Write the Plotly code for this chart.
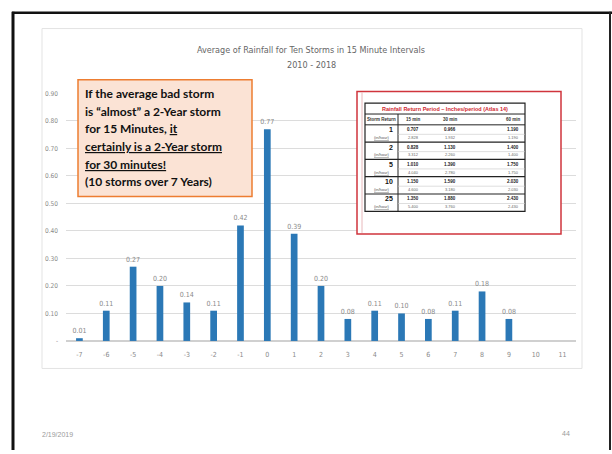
import plotly.graph_objects as go

# ---------------- data ----------------
categories = ["-7", "-6", "-5", "-4", "-3", "-2", "-1", "0", "1", "2",
              "3", "4", "5", "6", "7", "8", "9", "10", "11"]
rainfall = [0.01, 0.11, 0.27, 0.20, 0.14, 0.11, 0.42, 0.77, 0.39, 0.20,
            0.08, 0.11, 0.10, 0.08, 0.11, 0.18, 0.08, None, None]
y_tickvals = [0, 0.1, 0.2, 0.3, 0.4, 0.5, 0.6, 0.7, 0.8, 0.9]
y_ticktext = ["-", "0.10", "0.20", "0.30", "0.40", "0.50", "0.60", "0.70", "0.80", "0.90"]

title_line1 = "Average of Rainfall for Ten Storms in 15 Minute Intervals"
title_line2 = "2010 - 2018"
callout_lines = [
    "If the average bad storm",
    "is \u201calmost\u201d a 2-Year storm",
    "for 15 Minutes, <u>it</u>",
    "<u>certainly is a 2-Year storm</u>",
    "<u>for 30 minutes!</u>",
    "(10 storms over 7 Years)",
]
footer_date = "2/19/2019"
footer_page = "44"

# inset table (Atlas 14 return periods), values estimated (illegible in source)
table_title = "Rainfall Return Period \u2013 Inches/period (Atlas 14)"
table_cols = ["15 min", "30 min", "60 min"]
return_periods = ["1", "2", "5", "10", "25"]
depth_15 = [0.707, 0.828, 1.010, 1.150, 1.350]
depth_30 = [0.966, 1.130, 1.390, 1.590, 1.880]
depth_60 = [1.190, 1.400, 1.750, 2.030, 2.430]
rate_15 = [2.828, 3.312, 4.040, 4.600, 5.400]
rate_30 = [1.932, 2.260, 2.780, 3.180, 3.760]
rate_60 = [1.190, 1.400, 1.750, 2.030, 2.430]

W, H = 612, 454
NARROW = "Liberation Sans Narrow, DejaVu Sans Condensed, Arial Narrow, sans-serif"
SANS = "Liberation Sans, Arial, sans-serif"


def px(x):
    return x / W


def py(y):
    return 1 - y / H


def note(text, x, y, size, color, family=SANS, xanchor="center"):
    return dict(text=text, xref="paper", yref="paper", x=px(x), y=py(y), xanchor=xanchor,
                yanchor="middle", showarrow=False, font=dict(size=size, color=color, family=family))


fig = go.Figure()
fig.add_trace(go.Bar(
    x=categories, y=rainfall,
    marker=dict(color="#2B78B6", line=dict(width=0)),
    width=0.25,
    text=[("%.2f" % v) if v is not None else "" for v in rainfall],
    textposition="outside",
    constraintext="none",
    textfont=dict(size=7, color="#8a8a8a", family=NARROW),
    cliponaxis=False,
    hoverinfo="skip",
))

shapes = []
annotations = []

# photo frame of the slide
shapes.append(dict(type="line", xref="paper", yref="paper", x0=px(12), x1=px(612), y0=py(9), y1=py(9),
                   line=dict(color="#111111", width=2.5)))
shapes.append(dict(type="line", xref="paper", yref="paper", x0=px(13), x1=px(13), y0=py(8), y1=py(454),
                   line=dict(color="#111111", width=3)))
shapes.append(dict(type="line", xref="paper", yref="paper", x0=px(610), x1=px(610), y0=py(8), y1=py(454),
                   line=dict(color="#222222", width=2)))
# chart area border
shapes.append(dict(type="rect", xref="paper", yref="paper", x0=px(42), x1=px(582), y0=py(371), y1=py(25),
                   line=dict(color="#e3e3e3", width=1), fillcolor="rgba(0,0,0,0)"))

# title
annotations.append(note(title_line1, 311, 47, 9, "#666666", NARROW))
annotations.append(note(title_line2, 311, 62, 9, "#666666", NARROW))

# callout box
shapes.append(dict(type="rect", xref="paper", yref="paper", x0=px(78), x1=px(252), y0=py(196), y1=py(77),
                   line=dict(color="#ED7D31", width=1.5), fillcolor="#FBE3D5", layer="above"))
line_y = [91, 109, 127, 145, 163, 181]
for t, yy in zip(callout_lines, line_y):
    annotations.append(note("<b>" + t + "</b>", 83, yy, 12, "#111111", "Lato, Open Sans, sans-serif",
                            xanchor="left"))

# inset table (pasted picture)
shapes.append(dict(type="rect", xref="paper", yref="paper", x0=px(357), x1=px(561), y0=py(234), y1=py(89),
                   line=dict(color="#D0343C", width=1.5), fillcolor="#FFFFFF", layer="above"))
shapes.append(dict(type="line", xref="paper", yref="paper", x0=px(362), x1=px(362), y0=py(233), y1=py(90),
                   line=dict(color="#e8b8bb", width=1), layer="above"))
tx0, tx1, ty0, ty1 = 365, 525, 101, 211
shapes.append(dict(type="rect", xref="paper", yref="paper", x0=px(tx0), x1=px(tx1), y0=py(ty1), y1=py(ty0),
                   line=dict(color="#222222", width=1.2), fillcolor="rgba(0,0,0,0)", layer="above"))
for yy in (112, 123):
    shapes.append(dict(type="line", xref="paper", yref="paper", x0=px(tx0), x1=px(tx1), y0=py(yy), y1=py(yy),
                       line=dict(color="#222222", width=1), layer="above"))
shapes.append(dict(type="line", xref="paper", yref="paper", x0=px(398), x1=px(398), y0=py(112), y1=py(ty1),
                   line=dict(color="#222222", width=1), layer="above"))
annotations.append(note("<b>" + table_title + "</b>", 445, 106.5, 5.5, "#D0262E"))
annotations.append(note("<b>Storm Return</b>", 381, 117.5, 4.5, "#333333"))
col_x = [413, 450, 513]
for cx, c in zip(col_x, table_cols):
    annotations.append(note("<b>" + c + "</b>", cx, 117.5, 4.5, "#333333"))
gh = (ty1 - 123) / len(return_periods)
for i, rp in enumerate(return_periods):
    g0 = 123 + i * gh
    if i > 0:
        shapes.append(dict(type="line", xref="paper", yref="paper", x0=px(tx0), x1=px(tx1), y0=py(g0), y1=py(g0),
                           line=dict(color="#222222", width=1.2), layer="above"))
    shapes.append(dict(type="line", xref="paper", yref="paper", x0=px(398), x1=px(tx1), y0=py(g0 + gh * 0.55),
                       y1=py(g0 + gh * 0.55), line=dict(color="#c8c8c8", width=0.6), layer="above"))
    annotations.append(note("<b>" + rp + "</b>", 395, g0 + 5, 7, "#111111", xanchor="right"))
    annotations.append(note("<u>(in/hour)</u>", 382, g0 + 13, 4, "#555555"))
    for cx, v in zip(col_x, (depth_15[i], depth_30[i], depth_60[i])):
        annotations.append(note("<b>%.3f</b>" % v, cx, g0 + 5, 4.5, "#222222"))
    for cx, v in zip(col_x, (rate_15[i], rate_30[i], rate_60[i])):
        annotations.append(note("%.3f" % v, cx, g0 + 13, 4, "#666666"))

# footer
annotations.append(note(footer_date, 40, 438, 7, "#9a9a9a", xanchor="left"))
annotations.append(note(footer_page, 566, 437, 7, "#9a9a9a"))

fig.update_layout(
    width=W, height=H,
    margin=dict(l=0, r=0, t=0, b=0),
    paper_bgcolor="#FFFFFF", plot_bgcolor="#FFFFFF",
    showlegend=False,
    hovermode=False,
    shapes=shapes, annotations=annotations,
    xaxis=dict(domain=[px(66), px(576)], type="category", categoryorder="array", categoryarray=categories,
               showgrid=False, showline=False, ticks="", zeroline=False, ticklabelstandoff=8,
               tickfont=dict(size=7, color="#8a8a8a", family=NARROW)),
    yaxis=dict(domain=[py(343), py(91)], range=[0, 0.9], tickvals=y_tickvals, ticktext=y_ticktext,
               showgrid=True, gridcolor="#dcdcdc", gridwidth=1, zeroline=True, zerolinecolor="#d0d0d0",
               showline=False, ticks="", ticklabelstandoff=7,
               tickfont=dict(size=6.5, color="#8a8a8a", family=NARROW)),
)

fig.write_html("out.html", config={"displayModeBar": False, "staticPlot": True},
               post_script="document.body.style.margin='0';document.body.style.padding='0';"
                           "document.body.style.overflow='hidden';")
